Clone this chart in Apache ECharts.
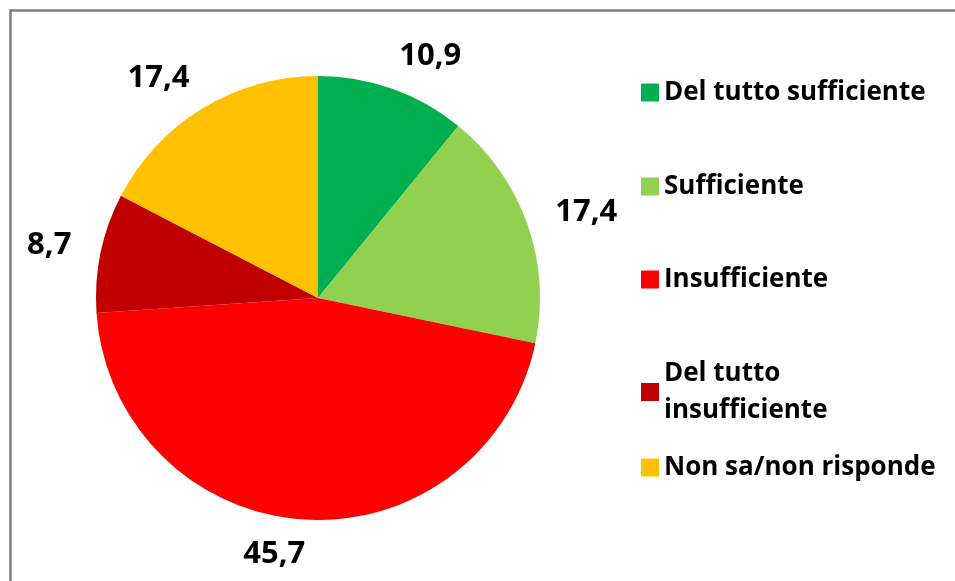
<!DOCTYPE html>
<html>
<head>
<meta charset="UTF-8">
<title>Giudizio</title>
<script type="text/javascript" src="https://cdn.jsdelivr.net/npm/echarts@6/dist/echarts.min.js"></script>
<style>
  body{margin:0;background:#fff}
</style>
</head>
<body>
<div id="main" style="width:955px;height:581px"></div>
<script type="text/javascript">
	// dati
	var categories = ['Del tutto sufficiente', 'Sufficiente', 'Insufficiente', 'Del tutto insufficiente', 'Non sa/non risponde'];
	var values = [10.9, 17.4, 45.7, 8.7, 17.4];
	var colors = ['#00B050', '#92D050', '#FF0000', '#C00000', '#FFC000'];
	var legendTops = [69, 163, 256, 350, 444];

	var myChart = echarts.init(document.getElementById('main'));

	var pieData = categories.map(function (name, i) {
		return { name: name, value: values[i], itemStyle: { color: colors[i] } };
	});

	// una legenda per voce, per posizionarle come nell'originale
	var legends = categories.map(function (name, i) {
		return {
			data: [name],
			left: 636,
			top: legendTops[i],
			orient: 'vertical',
			icon: 'rect',
			itemWidth: 18,
			itemHeight: 18,
			itemGap: 0,
			selectedMode: false,
			formatter: function (n) {
				return n === 'Del tutto insufficiente' ? 'Del tutto\ninsufficiente' : n;
			},
			textStyle: {
				fontFamily: 'Open Sans',
				fontWeight: 'bold',
				fontSize: 26,
				lineHeight: 37,
				color: '#000'
			}
		};
	});

	var option = {
		animation: false,
		graphic: [{
			type: 'rect',
			left: 8,
			top: 8,
			shape: { width: 960, height: 600 },
			style: { fill: 'none', stroke: '#808080', lineWidth: 2.5 }
		}],
		legend: legends,
		series: [{
			type: 'pie',
			center: [318, 298],
			radius: 222,
			startAngle: 90,
			clockwise: true,
			avoidLabelOverlap: false,
			data: pieData,
			label: {
				show: true,
				position: 'outside',
				distanceToLabelLine: 0,
				formatter: function (p) {
					return String(p.value).replace('.', ',');
				},
				fontFamily: 'Open Sans',
				fontWeight: 'bold',
				fontSize: 31,
				color: '#000'
			},
			labelLine: { show: false, length: 35, length2: -5 },
			emphasis: { disabled: true }
		}]
	};
	myChart.setOption(option);
</script>
</body>
</html>
